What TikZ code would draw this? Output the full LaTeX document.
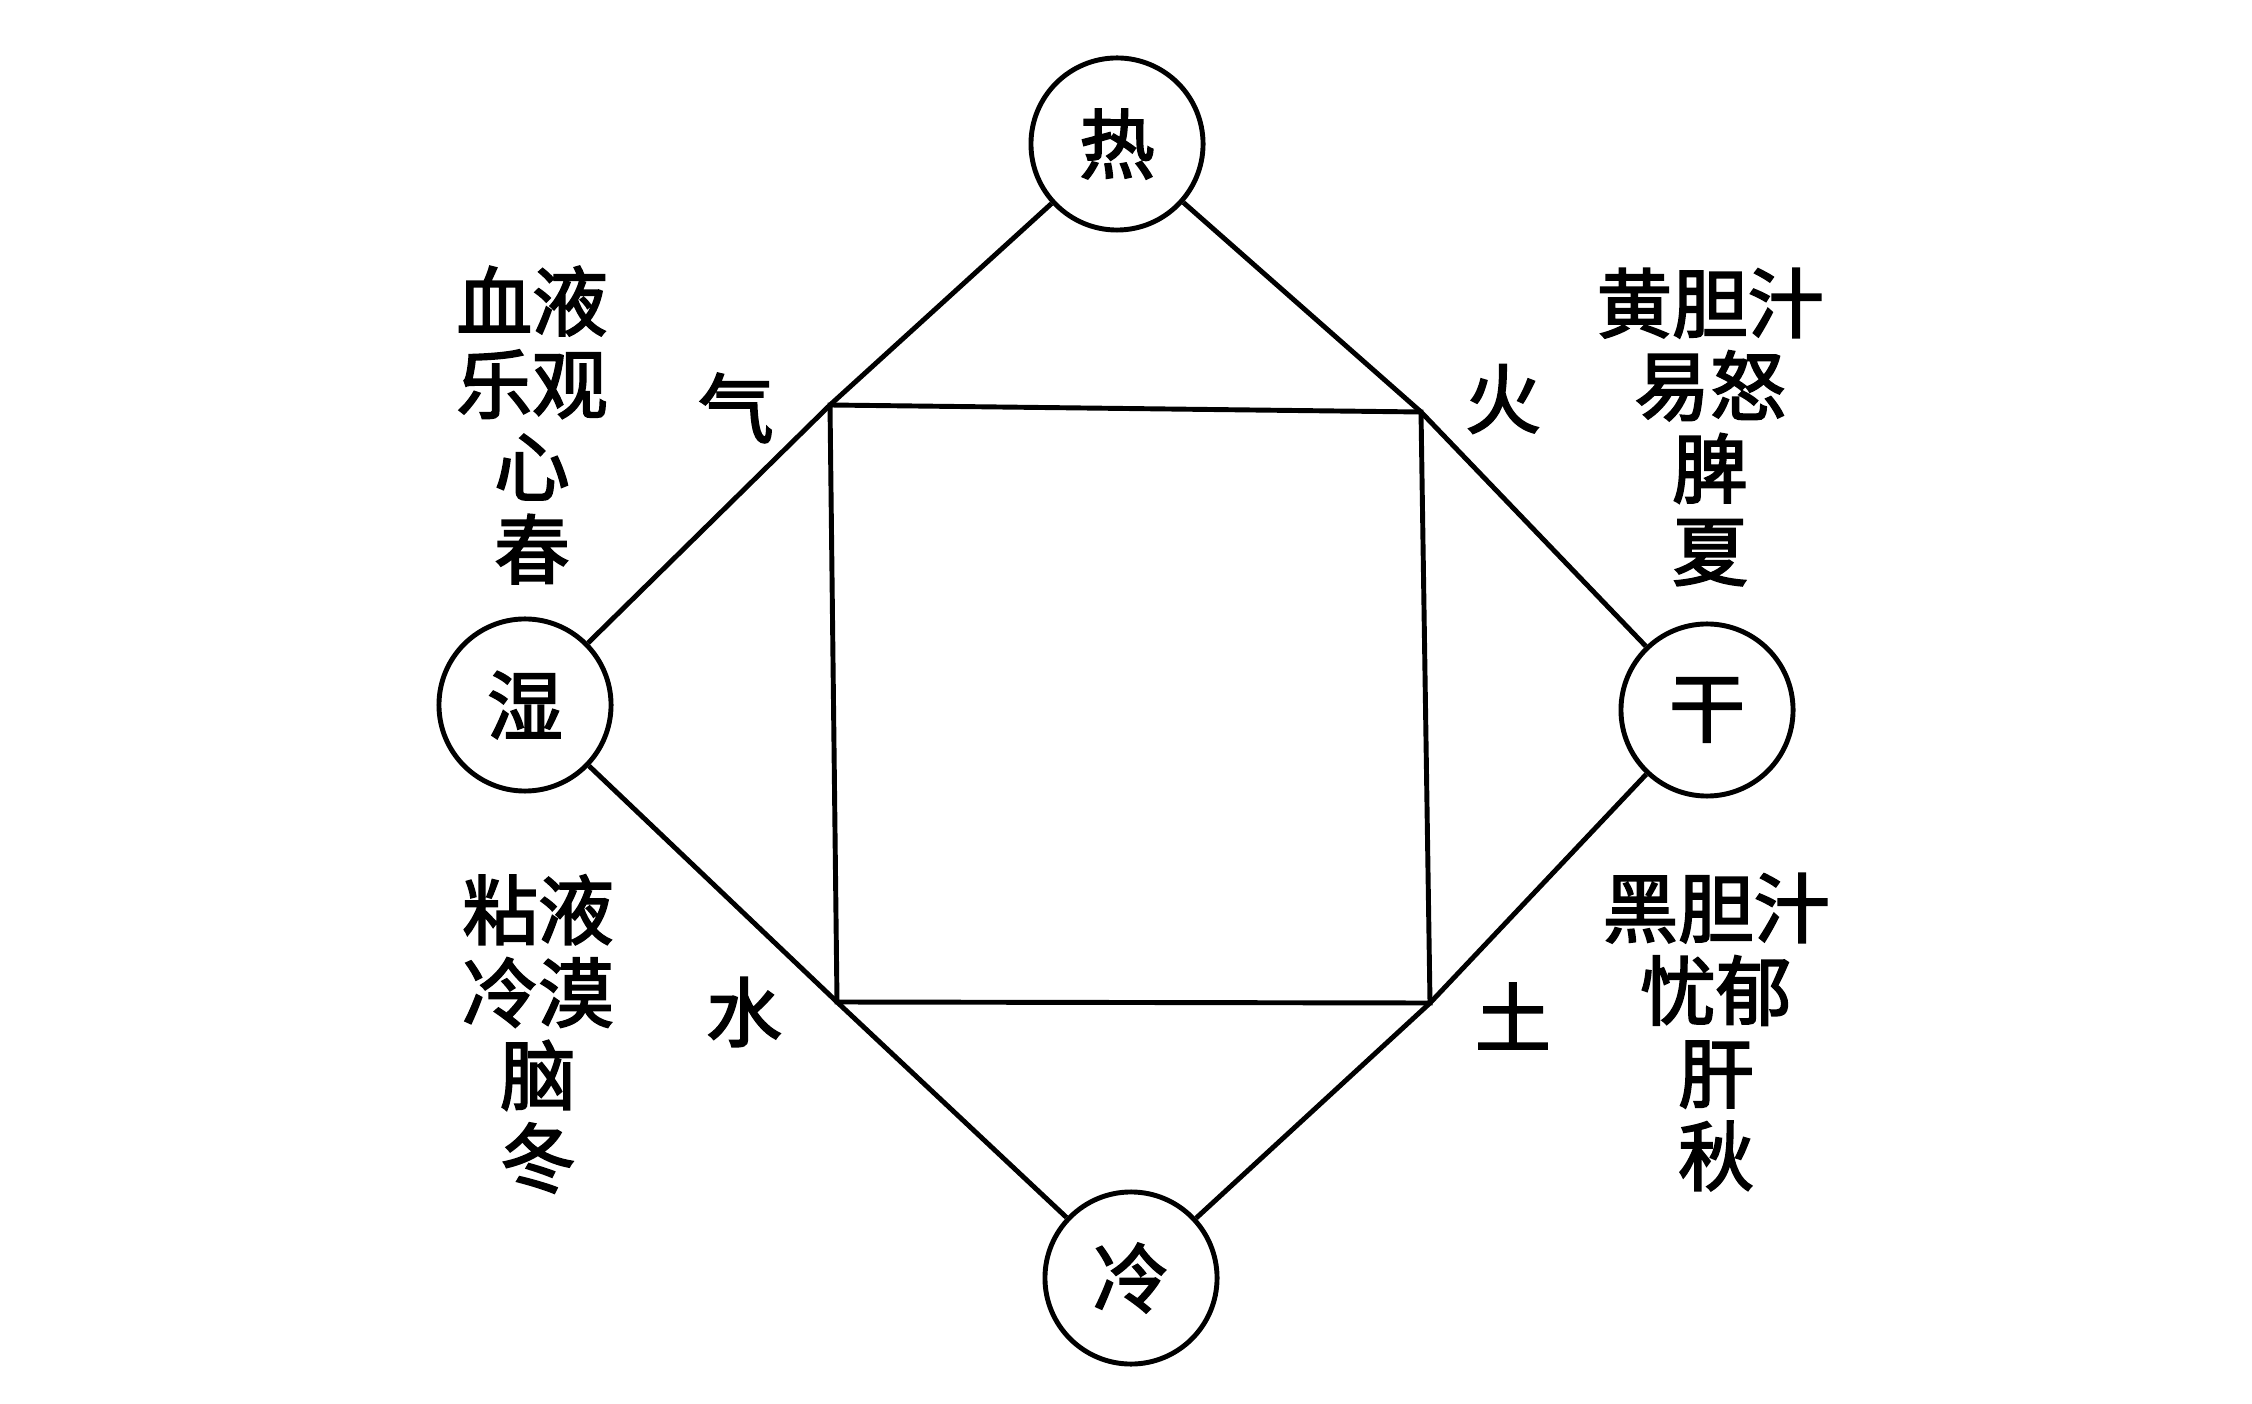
\documentclass[tikz,border=0pt]{standalone}
\usepackage{fontspec}
\setmainfont{Noto Sans CJK SC}[BoldFont={Noto Sans CJK SC},BoldFeatures={FakeBold=2.5}]
\begin{document}
\begin{tikzpicture}[x=0.01cm,y=-0.01cm,line width=1.4pt,
    quality/.style={draw,circle,minimum size=1.72cm,inner sep=0pt},
    word/.style={font=\fontsize{21.5}{23.5}\selectfont\bfseries,align=center,inner sep=0pt}]

    % Fix the page to the size of the reference
    \useasboundingbox (0,0) rectangle (2252,1404);

    % The four qualities
    \node[quality,word] (H) at (1117,144) {热};
    \node[quality,word] (W) at (525,705) {湿};
    \node[quality,word] (D) at (1707,710) {干};
    \node[quality,word] (K) at (1131,1278) {冷};

    % Corners of the square
    \coordinate (Q1) at (830,405);
    \coordinate (Q2) at (1421,412);
    \coordinate (Q3) at (1430,1003);
    \coordinate (Q4) at (837,1002);

    % Draw the square
    \draw (Q1) -- (Q2) -- (Q3) -- (Q4) -- cycle;

    % Draw the sides of the diamond
    \draw (H) -- (Q1) -- (W);
    \draw (H) -- (Q2) -- (D);
    \draw (W) -- (Q4) -- (K);
    \draw (D) -- (Q3) -- (K);

    % Add the elements at the corners
    \node[word] (air) at (736,408) {气};
    \node[word] (fire) at (1503,399) {火};
    \node[word] (water) at (744,1012) {水};
    \node[word] (earth) at (1513,1016) {土};

    % Add the humours
    \node[word] (blood) at (532,425) {血液\\乐观\\心\\春};
    \node[word] (yellow) at (1710,427) {黄胆汁\\易怒\\脾\\夏};
    \node[word] (phlegm) at (538,1034) {粘液\\冷漠\\脑\\冬};
    \node[word] (black) at (1716,1032) {黑胆汁\\忧郁\\肝\\秋};

\end{tikzpicture}
\end{document}
